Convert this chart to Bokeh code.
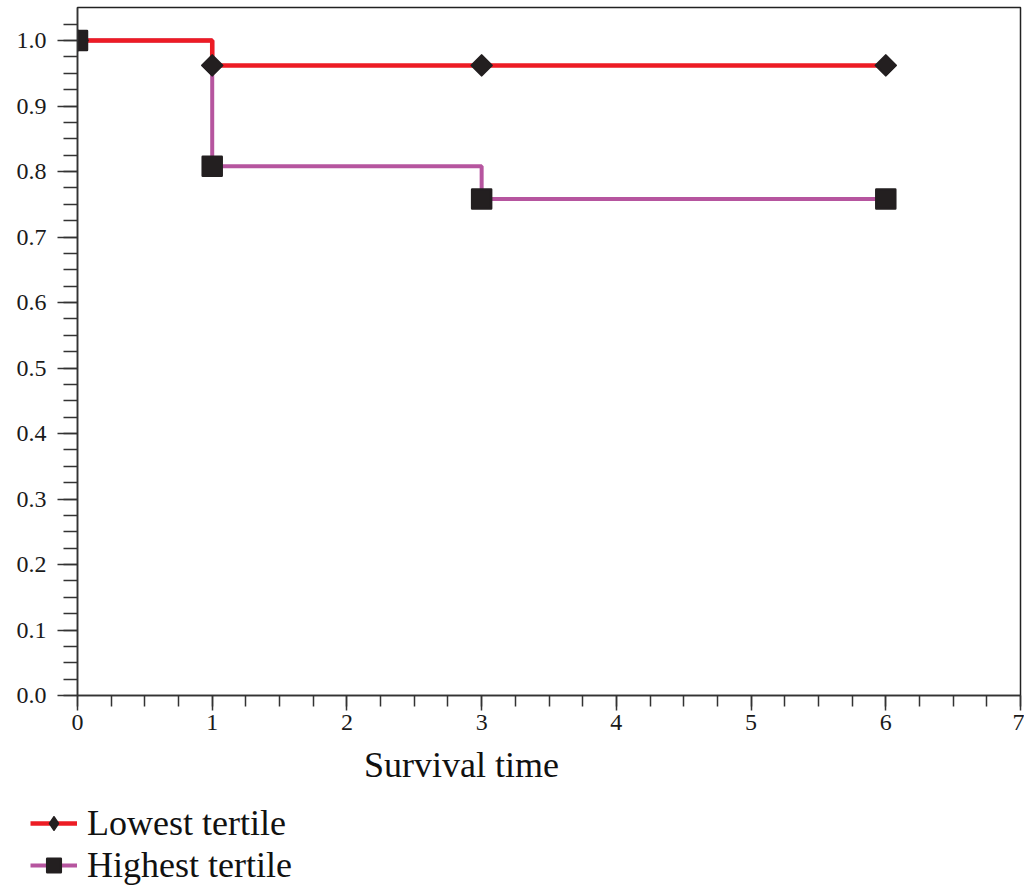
import math
from bokeh.plotting import figure
from bokeh.layouts import column
from bokeh.models import (Range1d, FixedTicker, Legend, LegendItem, Label,
                          ColumnDataSource)
from bokeh.embed import file_html
from bokeh.resources import INLINE

# ---- data ----
times = [0, 1, 3, 6]
lowest_tertile = [1.0, 0.962, 0.962, 0.962]
highest_tertile = [1.0, 0.808, 0.758, 0.758]

x_ticks = [0, 1, 2, 3, 4, 5, 6, 7]
x_minor = [i * 0.25 for i in range(0, 29)]
y_ticks = [0.0, 0.1, 0.2, 0.3, 0.4, 0.5, 0.6, 0.7, 0.8, 0.9, 1.0]
y_minor = [i * 0.025 for i in range(0, 42)]
y_labels = {t: f"{t:.1f}" for t in y_ticks}

series_names = ["Lowest tertile", "Highest tertile"]
x_title = "Survival time"

FONT = "Liberation Serif"
RED = "#ED1C24"
MAG = "#B6559F"
MARK = "#231F20"
W = 1024

p = figure(width=W, height=745, output_backend="svg", toolbar_location=None,
           x_range=Range1d(0, 7), y_range=Range1d(0, 1.0504),
           min_border_left=77, min_border_right=4, min_border_top=7,
           min_border_bottom=50)
p.background_fill_color = "white"
p.border_fill_color = "white"
p.outline_line_color = "#222222"
p.outline_line_width = 1.5
p.xgrid.visible = False
p.ygrid.visible = False

src_low = ColumnDataSource(dict(x=times, y=lowest_tertile))
src_high = ColumnDataSource(dict(x=times, y=highest_tertile))

p.step("x", "y", source=src_high, mode="after", line_color=MAG, line_width=4)
p.step("x", "y", source=src_low, mode="after", line_color=RED, line_width=4.5)
DIA = dict(marker="square", angle=math.pi / 4, fill_color=MARK,
           line_color=MARK, line_width=2, line_join="round")
SQ = dict(marker="square", fill_color=MARK, line_color=MARK, line_width=2.5,
          line_join="round")
p.scatter("x", "y", source=src_low, size=14.5, **DIA)
p.scatter("x", "y", source=src_high, size=19, **SQ)

# axes
xa = p.xaxis[0]
xa.ticker = FixedTicker(ticks=x_ticks, minor_ticks=x_minor)
xa.major_tick_in = 0
xa.major_tick_out = 15
xa.minor_tick_in = 0
xa.minor_tick_out = 11
xa.major_label_standoff = 4
xa.major_label_text_font = FONT
xa.major_label_text_font_size = "24px"
xa.major_label_text_color = "#1a1a1a"
ya = p.yaxis[0]
ya.ticker = FixedTicker(ticks=y_ticks, minor_ticks=y_minor)
ya.major_label_overrides = y_labels
ya.major_tick_in = 0
ya.major_tick_out = 20
ya.minor_tick_in = 0
ya.minor_tick_out = 14
ya.major_label_standoff = 11
ya.major_label_text_font = FONT
ya.major_label_text_font_size = "24px"
ya.major_label_text_color = "#1a1a1a"
for ax in (xa, ya):
    ax.axis_line_color = "#333333"
    ax.axis_line_width = 1.5
    ax.major_tick_line_color = "#333333"
    ax.major_tick_line_width = 1.5
    ax.minor_tick_line_color = "#333333"
    ax.minor_tick_line_width = 1.5

# ---- lower panel: axis title and legend ----
H2 = 142
q = figure(width=W, height=H2, output_backend="svg", toolbar_location=None,
           x_range=Range1d(0, W), y_range=Range1d(H2, 0),
           min_border=0, x_axis_type=None, y_axis_type=None)
q.outline_line_color = None
q.xgrid.visible = False
q.ygrid.visible = False
q.background_fill_color = "white"
q.border_fill_color = "white"

q.add_layout(Label(x=461, y=19, text=x_title, text_font=FONT,
                   text_font_size="36px", text_align="center",
                   text_baseline="alphabetic", text_color="#111111"))

nan = float("nan")
e = dict(x=[nan], y=[nan])
l1 = q.line("x", "y", source=ColumnDataSource(e), line_color=RED, line_width=4.5)
m1 = q.scatter("x", "y", source=ColumnDataSource(e), marker="diamond", size=21,
               fill_color=MARK, line_color=MARK, line_width=1.5, line_join="round")
l2 = q.line("x", "y", source=ColumnDataSource(e), line_color=MAG, line_width=4)
m2 = q.scatter("x", "y", source=ColumnDataSource(e), size=15, **SQ)

legend = Legend(items=[LegendItem(label=series_names[0], renderers=[l1, m1]),
                       LegendItem(label=series_names[1], renderers=[l2, m2])],
                location=(30, 1), orientation="vertical")
legend.padding = 0
legend.margin = 0
legend.border_line_color = None
legend.background_fill_alpha = 0
legend.glyph_width = 47
legend.glyph_height = 34
legend.label_height = 34
legend.label_standoff = 10
legend.spacing = 0
legend.label_text_font = FONT
legend.label_text_font_size = "36px"
legend.label_text_color = "#111111"
q.add_layout(legend, "center")

open("out.html", "w").write(file_html(column(p, column(q)), INLINE))
